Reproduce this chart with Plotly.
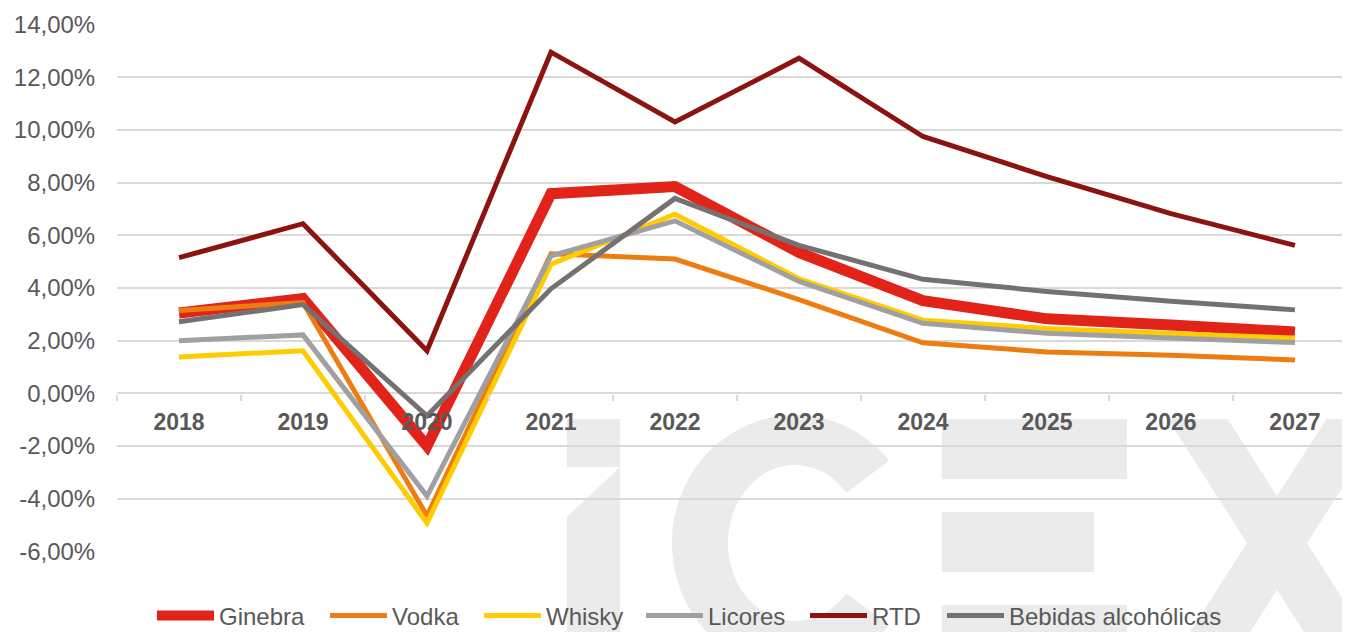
import numpy as np
import plotly.graph_objects as go

# ---------------- data ----------------
YEARS = ["2018", "2019", "2020", "2021", "2022", "2023", "2024", "2025", "2026", "2027"]
GINEBRA = [3.05, 3.60, -2.00, 7.58, 7.85, 5.35, 3.52, 2.83, 2.60, 2.33]
VODKA = [3.15, 3.45, -4.65, 5.30, 5.10, 3.56, 1.92, 1.57, 1.45, 1.27]
WHISKY = [1.38, 1.62, -4.92, 4.90, 6.80, 4.35, 2.78, 2.46, 2.27, 2.10]
LICORES = [2.00, 2.22, -3.90, 5.22, 6.55, 4.25, 2.66, 2.28, 2.10, 1.93]
RTD = [5.15, 6.44, 1.62, 12.95, 10.30, 12.72, 9.75, 8.23, 6.82, 5.62]
BEBIDAS = [2.72, 3.37, -0.85, 3.97, 7.40, 5.62, 4.33, 3.87, 3.50, 3.17]

SERIES_NAMES = ["Ginebra", "Vodka", "Whisky", "Licores", "RTD", "Bebidas alcohólicas"]
Y_TICKS = [-6, -4, -2, 0, 2, 4, 6, 8, 10, 12, 14]
Y_TICK_LABELS = ["-6,00%", "-4,00%", "-2,00%", "0,00%", "2,00%", "4,00%",
                 "6,00%", "8,00%", "10,00%", "12,00%", "14,00%"]

# ---------------- styles ----------------
COLORS = ["#E2231A", "#EE7D11", "#FFCC00", "#A09FA1", "#8B1410", "#767171"]
WIDTHS = [11, 5, 5, 5, 5, 5]
LEGEND_TEXT_X = [219, 392, 546, 708, 872, 1009]   # page px where each legend text starts
LEGEND_IDS = ["legend", "legend2", "legend3", "legend4", "legend5", "legend6"]

fig = go.Figure()
for name, vals, col, w, lid in zip(SERIES_NAMES, [GINEBRA, VODKA, WHISKY, LICORES, RTD, BEBIDAS],
                                   COLORS, WIDTHS, LEGEND_IDS):
    fig.add_trace(go.Scatter(x=YEARS, y=vals, name=name, mode="lines",
                             line=dict(color=col, width=w), legend=lid))

# ---------------- geometry (page is offset by the 8px body margin) ----------------
OFF = 8
W, H = 1350 - OFF, 632 - OFF
L, R, T = 117 - OFF, 0, 24 - OFF
PLOT_BOTTOM = 552 - OFF
B = H - PLOT_BOTTOM
PW, PH = W - L - R, H - T - B


def P(px, py):
    # px, py: page pixel coordinates
    return (px - OFF - L) / PW, (PLOT_BOTTOM - (py - OFF)) / PH


def path(points):
    s = ""
    for i, (px, py) in enumerate(points):
        x, y = P(px, py)
        s += ("M" if i == 0 else "L") + f"{x:.5f},{y:.5f} "
    return s + "Z"


# ---------------- watermark (decorative logo) ----------------
WM = "#EBEBEB"
shapes = []
# "i"
shapes.append(path([(567, 419), (620, 419), (620, 700), (567, 700), (567, 517), (620, 467), (567, 467)]))
# "C"
cx, cy = 795, 543
orx, ory, irx, iry = 123, 128, 67, 78
t = np.radians(np.linspace(40, 320, 80))
outer = [(cx + orx * np.cos(a), cy - ory * np.sin(a)) for a in t]
inner = [(cx + irx * np.cos(a), cy - iry * np.sin(a)) for a in t[::-1]]
shapes.append(path(outer + inner))
# "E" bars
shapes.append(path([(942, 419), (1127, 419), (1127, 479), (942, 479)]))
shapes.append(path([(942, 512), (1094, 512), (1094, 572), (942, 572)]))
shapes.append(path([(942, 605), (1127, 605), (1127, 700), (942, 700)]))
# "X"
xc, yc, s, w = 1277, 543, 0.64, 30
shapes.append(path([(xc + s * (419 - yc) - w, 419), (xc + s * (419 - yc) + w, 419),
                    (xc + s * (700 - yc) + w, 700), (xc + s * (700 - yc) - w, 700)]))
shapes.append(path([(xc - s * (419 - yc) - w, 419), (xc - s * (419 - yc) + w, 419),
                    (xc - s * (700 - yc) + w, 700), (xc - s * (700 - yc) - w, 700)]))

for sp in shapes:
    fig.add_shape(type="path", path=sp, xref="paper", yref="paper", layer="below",
                  fillcolor=WM, line=dict(width=0))

# ---------------- layout ----------------
FONT = "Liberation Sans, Arial, sans-serif"
TXT = "#595959"
ITEMW, INDENT = 57, -3
TEXT_GAP = ITEMW + 10 + INDENT

legends = {}
for lid, tx in zip(LEGEND_IDS, LEGEND_TEXT_X):
    lx, ly = P(tx - TEXT_GAP, 616)
    legends[lid] = dict(orientation="h", x=lx, xanchor="left", y=ly, yanchor="middle",
                        bgcolor="rgba(0,0,0,0)", borderwidth=0,
                        font=dict(size=24, color=TXT, family=FONT),
                        itemwidth=ITEMW, indentation=INDENT)

fig.update_layout(
    width=W, height=H,
    margin=dict(l=L, r=R, t=T, b=B, pad=0, autoexpand=False),
    plot_bgcolor="rgba(0,0,0,0)", paper_bgcolor="white",
    font=dict(family=FONT, color=TXT, size=24),
    showlegend=True,
    xaxis=dict(type="category", range=[-0.5, 9.444], anchor="free", position=P(0, 394)[1],
               showgrid=False, showline=False, zeroline=False,
               ticks="outside", tickson="boundaries", ticklen=6, tickwidth=2, tickcolor="#D9D9D9",
               tickfont=dict(size=23, color=TXT, family=FONT, weight="bold"),
               ticklabelstandoff=12),
    yaxis=dict(range=[-6.02, 14.02], tickmode="array", tickvals=Y_TICKS, ticktext=Y_TICK_LABELS,
               showgrid=True, gridcolor="#D9D9D9", gridwidth=2,
               zeroline=True, zerolinecolor="#D9D9D9", zerolinewidth=2,
               showline=False, ticks="outside", ticklen=16, tickcolor="rgba(0,0,0,0)",
               tickfont=dict(size=24, color=TXT, family=FONT)),
    **legends,
)

fig.write_html("out.html")
